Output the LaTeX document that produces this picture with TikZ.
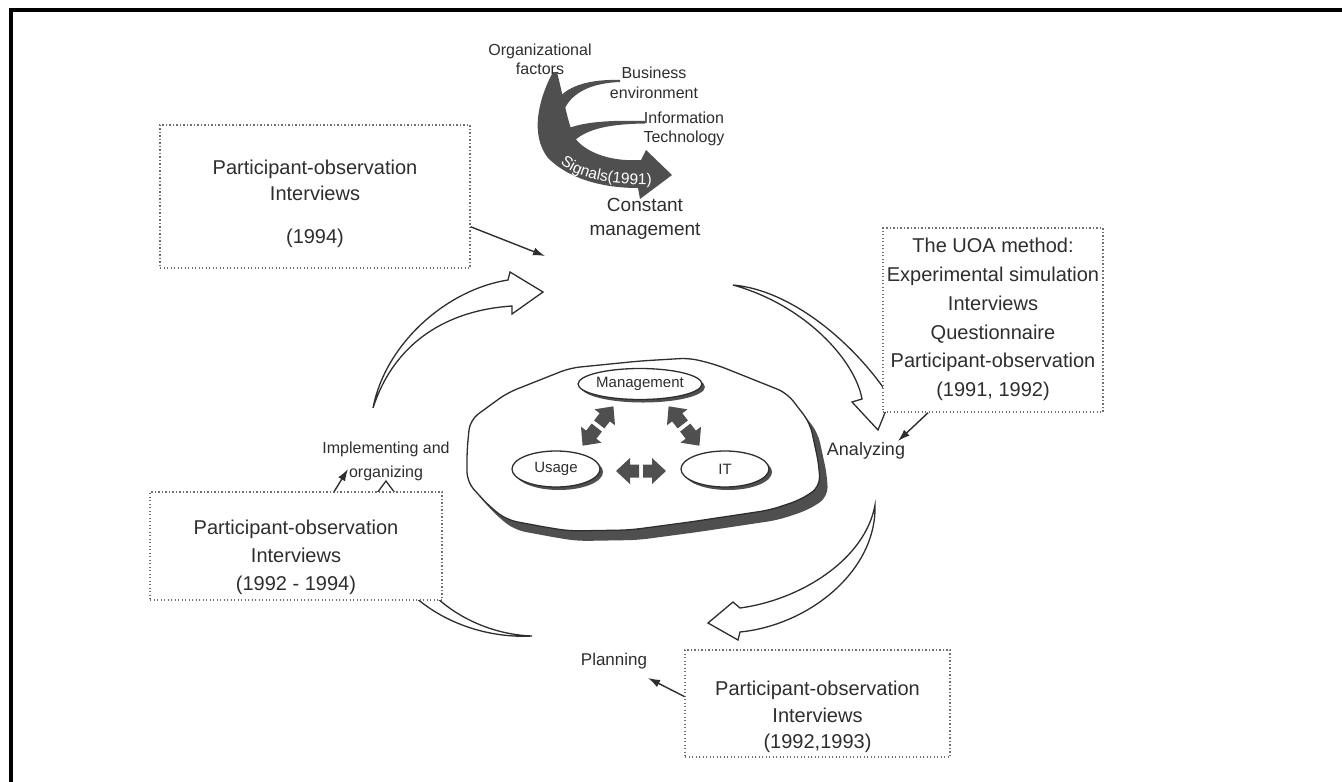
\documentclass[tikz,border=0pt]{standalone}
\usepackage{fontspec}
\setmainfont{Liberation Sans}
\usetikzlibrary{arrows.meta,shapes.geometric,shadows,decorations.text}
\definecolor{ink}{HTML}{2E2E2E}
\definecolor{dgray}{HTML}{4F4F4F}
\definecolor{dotc}{HTML}{707070}
\newcommand\blkarrow[2]{\fill[dgray,shift={#1},rotate=#2] (2,-6.5) -- (11,-6.5) -- (11,-13) -- (25,0) -- (11,13) -- (11,6.5) -- (2,6.5) -- cycle;}
\begin{document}
\begin{tikzpicture}[x=1pt,y=-1pt,
  boxframe/.style={draw=dotc, line width=1.3pt, dash pattern=on 1.3pt off 2.2pt, fill=white, inner sep=0pt},
  boxtext/.style={text=ink, align=center, inner sep=0pt, font=\fontsize{20pt}{26.5pt}\selectfont},
  lbl/.style={text=ink, align=center, inner sep=0pt},
  openarrow/.style={fill=white, draw=ink, line width=1.3pt, line join=miter},
  conn/.style={draw=ink, line width=1.4pt, -{Latex[length=12pt,width=8pt]}},
  ell/.style={ellipse, draw=ink, line width=1.3pt, fill=white, inner sep=0pt, text=ink,
    font=\fontsize{15pt}{18pt}\selectfont,
    drop shadow={shadow xshift=3pt, shadow yshift=-3pt, fill=dgray, opacity=1}}
]
\useasboundingbox (0,0) rectangle (1342,782);
\fill[white] (0,0) rectangle (1342,782);
\draw[line width=3.5pt, black] (11,800) -- (11,10) -- (1360,10);

% central blob with shadow
\begin{scope}[shift={(8,10)}]
\fill[dgray, rounded corners=10pt] (467,450) -- (470,420) -- (507,393) -- (570,368) -- (640,361) -- (690,358) -- (717,365) -- (787,393) -- (810,423) -- (819,465) -- (820,487) -- (800,500) -- (770,510) -- (690,522) -- (630,530) -- (570,531) -- (550,528) -- (507,520) -- (490,507) -- (467,482) -- cycle;
\end{scope}
\filldraw[fill=white, draw=ink, line width=1.3pt, rounded corners=10pt] (467,450) -- (470,420) -- (507,393) -- (570,368) -- (640,361) -- (690,358) -- (717,365) -- (787,393) -- (810,423) -- (819,465) -- (820,487) -- (800,500) -- (770,510) -- (690,522) -- (630,530) -- (570,531) -- (550,528) -- (507,520) -- (490,507) -- (467,482) -- cycle;

% ellipses
\node[ell, minimum width=118, minimum height=31] (mgmt) at (640,384) {Management};
\node[ell, minimum width=88, minimum height=36] (usage) at (556,469) {Usage};
\node[ell, minimum width=88, minimum height=36] (it) at (725,469) {IT};

% block double arrows
\blkarrow{(598,426)}{52}
\blkarrow{(598,426)}{232}
\blkarrow{(684,426)}{128}
\blkarrow{(684,426)}{-52}
\blkarrow{(641,471)}{0}
\blkarrow{(641,471)}{180}

% open curved arrows
\filldraw[openarrow] (373,408) .. controls (385,345) and (445,290) .. (508,280) -- (510,272) -- (543,292) -- (512,314) -- (512,306) .. controls (450,310) and (395,340) .. (373,408) -- cycle;
\filldraw[openarrow] (733,285) .. controls (790,290) and (850,340) .. (885,390) -- (895,388) -- (878,430) -- (852,402) -- (862,399) .. controls (855,360) and (805,305) .. (733,285) -- cycle;
\filldraw[openarrow] (875,505) .. controls (877,570) and (810,625) .. (740,632) -- (738,640) -- (708,623) -- (733,602) -- (740,608) .. controls (800,600) and (865,560) .. (875,505) -- cycle;
\filldraw[openarrow] (532,636) .. controls (470,634) and (400,590) .. (398,513) -- (410,513) -- (386,481) -- (362,513) -- (374,513) .. controls (378,595) and (460,640) .. (532,636) -- cycle;

% signals swoosh
\fill[dgray] (553,72) .. controls (538,100) and (530,135) .. (548,158) .. controls (570,180) and (605,188) .. (638,188) -- (640,199) -- (672,175) -- (646,150) -- (641,160) .. controls (610,162) and (585,152) .. (575,138) .. controls (568,125) and (564,100) .. (557,72) -- cycle;
\fill[dgray] (620,80) .. controls (590,79) and (568,86) .. (559,98) -- (564,110) .. controls (572,92) and (592,83) .. (620,82) -- cycle;
\fill[dgray] (645,121) .. controls (610,120) and (585,122) .. (569,128) -- (574,141) .. controls (588,128) and (612,124) .. (645,123.5) -- cycle;
\path[decorate, decoration={text along path, text color=white, text align=center,
  text={|\fontsize{15.5pt}{18pt}\selectfont|Signals(1991)}}]
  (547,148) .. controls (565,178) and (605,187) .. (672,184);

% labels
\node[lbl, font=\fontsize{16pt}{19pt}\selectfont] (org) at (540,59) {Organizational\\factors};
\node[lbl, font=\fontsize{16pt}{20pt}\selectfont] (bus) at (654,83) {Business\\environment};
\node[lbl, font=\fontsize{16pt}{19.5pt}\selectfont] (itf) at (684,129) {Information\\Technology};
\node[lbl, font=\fontsize{19pt}{24pt}\selectfont] (constant) at (645,219) {Constant\\management};
\node[lbl, font=\fontsize{16pt}{24pt}\selectfont] (impl) at (386,461) {Implementing and\\organizing};
\node[lbl, font=\fontsize{18pt}{22pt}\selectfont] (analyzing) at (866,451) {Analyzing};
\node[lbl, font=\fontsize{17pt}{21pt}\selectfont] (planning) at (614,661) {Planning};

% boxes
\node[boxframe, minimum width=310, minimum height=143] (b1) at (315,196.5) {};
\node[boxframe, minimum width=220, minimum height=184] (b2) at (993,320) {};
\node[boxframe, minimum width=292, minimum height=108] (b3) at (296,546) {};
\node[boxframe, minimum width=265, minimum height=107] (b4) at (817.5,703.5) {};
\node[boxtext] (t1) at (315,204) {Participant-observation\\Interviews\\[16.5pt](1994)};
\node[boxtext, font=\fontsize{20pt}{28.8pt}\selectfont] (t2) at (993,319.5) {The UOA method:\\Experimental simulation\\Interviews\\Questionnaire\\Participant-observation\\(1991, 1992)};
\node[boxtext, font=\fontsize{20pt}{28pt}\selectfont] (t3) at (296,557.5) {Participant-observation\\Interviews\\(1992 - 1994)};
\node[boxtext] (t4) at (817.5,717) {Participant-observation\\Interviews\\(1992,1993)};

% connectors
\coordinate (c1e) at (545,256);
\draw[conn] (b1.-11) -- (c1e);
\coordinate (c2e) at (898,441);
\draw[conn] (b2.235) -- (c2e);
\coordinate (c3e) at (348,469);
\draw[conn] (b3.55) -- (c3e);
\coordinate (c4e) at (648,678);
\draw[conn] (b4.177) -- (c4e);
\end{tikzpicture}
\end{document}
